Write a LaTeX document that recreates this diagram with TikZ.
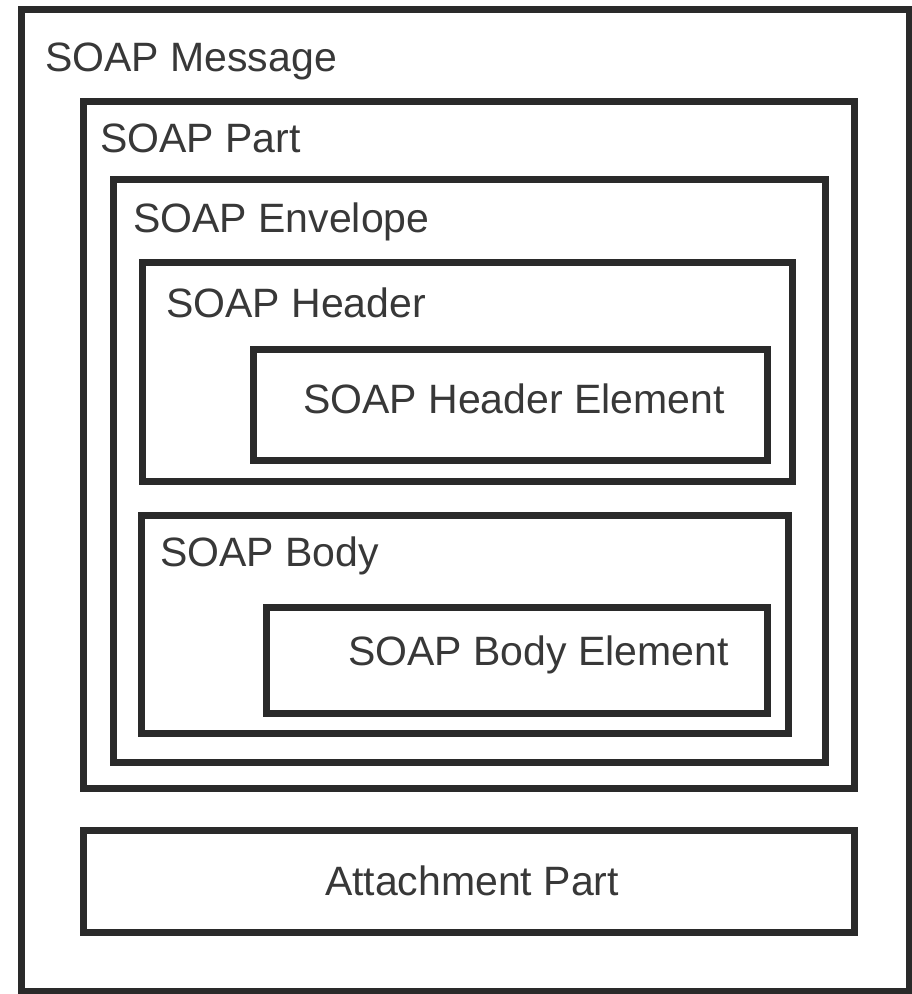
\documentclass[tikz,border=0pt]{standalone}
\usepackage{fontspec}
\setmainfont{Liberation Sans}
\definecolor{linec}{HTML}{2A2A2A}
\definecolor{textc}{HTML}{383838}
\begin{document}
\begin{tikzpicture}[x=1pt,y=-1pt,
  box/.style={draw=linec, line width=7pt, rectangle, inner sep=0pt, outer sep=0pt, minimum width=#1},
  lbl/.style={anchor=base west, inner sep=0pt, text=textc, font=\fontsize{41}{48}\selectfont}]
\useasboundingbox (0,0) rectangle (911,994);
\node[box=888, minimum height=982] (msg) at (465,500) {};
\node[box=771, minimum height=687] (part) at (468.5,444.5) {};
\node[box=712, minimum height=583] (env) at (469,470.5) {};
\node[box=650, minimum height=219] (hdr) at (467,371.5) {};
\node[box=514, minimum height=111] (hel) at (510,404.5) {};
\node[box=647, minimum height=218] (body) at (464.5,624) {};
\node[box=501, minimum height=106] (bel) at (516.5,660) {};
\node[box=771, minimum height=102] (att) at (468.5,881) {};
\node[lbl] (tmsg) at (45,71) {SOAP Message};
\node[lbl] (tpart) at (100,152) {SOAP Part};
\node[lbl] (tenv) at (133,232) {SOAP Envelope};
\node[lbl] (thdr) at (166,317) {SOAP Header};
\node[lbl] (thel) at (303,413) {SOAP Header Element};
\node[lbl] (tbody) at (160,566) {SOAP Body};
\node[lbl] (tbel) at (348,665) {SOAP Body Element};
\node[lbl, anchor=base] (tatt) at (472,895) {Attachment Part};
\end{tikzpicture}
\end{document}
